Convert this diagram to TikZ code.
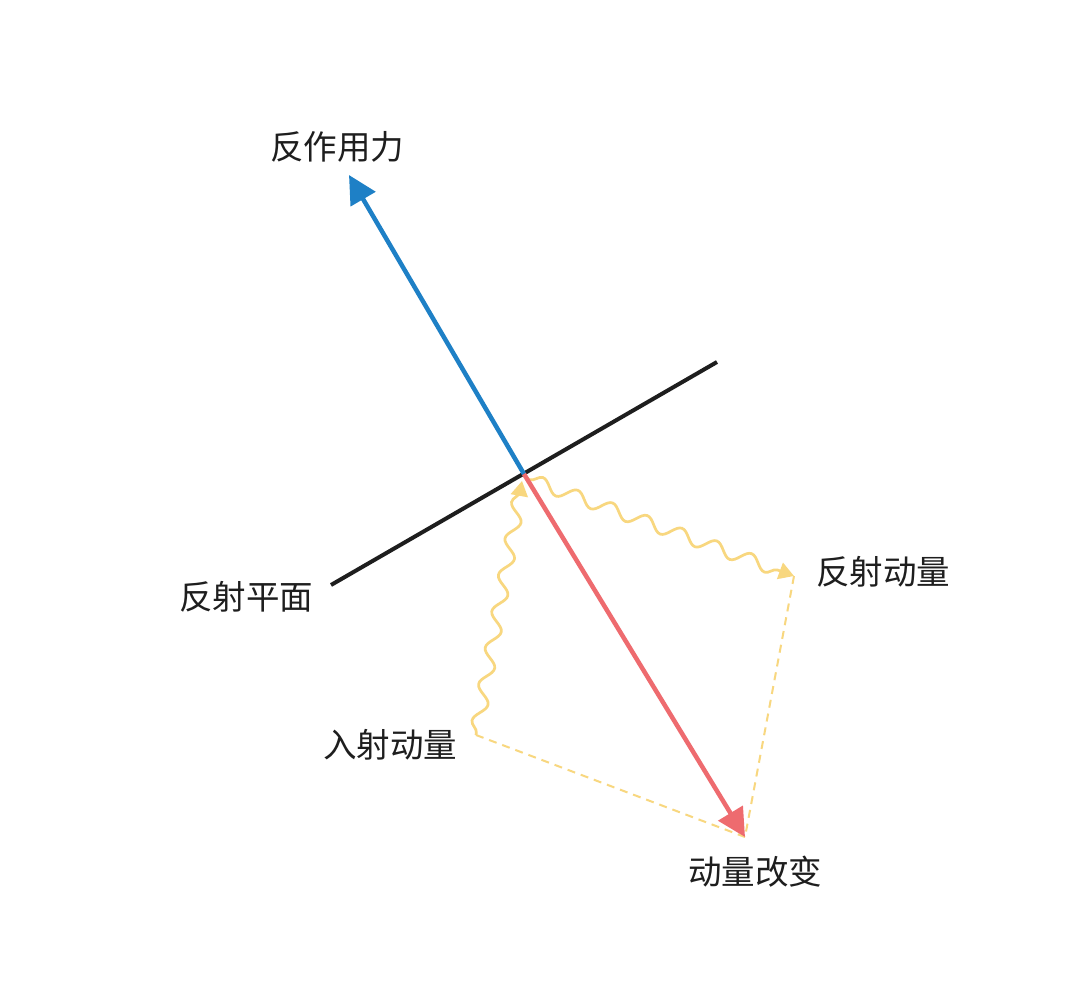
\documentclass[tikz,border=0pt]{standalone}
\usepackage{fontspec}
\newfontfamily\cjk{Noto Sans CJK SC}
\usetikzlibrary{arrows.meta,decorations.pathmorphing}
\definecolor{bluearr}{HTML}{1E80C6}
\definecolor{redarr}{HTML}{EE6B6F}
\definecolor{yel}{HTML}{F8D77F}
\definecolor{txt}{HTML}{1E1E1E}
\tikzset{
  lbl/.style={font=\cjk\fontsize{33.5}{34}\selectfont, text=txt, inner sep=0pt},
  bigarrow/.style={line width=4.5pt, -{Triangle[length=28pt,width=28pt]}},
  wave/.style={yel, line width=2.7pt, decorate,
    decoration={snake, segment length=37pt, amplitude=6.5pt, pre length=2pt, post length=10pt},
    -{Triangle[length=15pt,width=17pt]}},
  dashy/.style={yel, line width=2pt, dash pattern=on 8pt off 6pt}
}
\begin{document}
\begin{tikzpicture}[x=1pt,y=-1pt]
\useasboundingbox (0,0) rectangle (1080,993);
\fill[white] (0,0) rectangle (1080,993);
% points
\coordinate (O) at (524,474);
\coordinate (P1) at (331,585);
\coordinate (P2) at (717,362);
\coordinate (Rtip) at (349,175);
\coordinate (Mtip) at (745,837);
\coordinate (Inc) at (476,735);
\coordinate (IncEnd) at (522,481);
\coordinate (RefS) at (528,479);
\coordinate (Ref) at (794,576);
% labels
\node[lbl] (lR) at (337,147) {反作用力};
\node[lbl] (lP) at (246,597) {反射平面};
\node[lbl] (lRef) at (883,572) {反射动量};
\node[lbl] (lInc) at (390,745) {入射动量};
\node[lbl] (lM) at (755,872) {动量改变};
% dashed lines
\draw[dashy] (Inc) -- (Mtip);
\draw[dashy] (Ref) -- (Mtip);
% waves
\draw[wave] (Inc) -- (IncEnd);
\draw[wave] (RefS) -- (Ref);
% plane
\draw[line width=4pt, txt] (P1) -- (P2);
% arrows
\draw[bigarrow, bluearr] (O) -- (Rtip);
\draw[bigarrow, redarr] (O) -- (Mtip);
\end{tikzpicture}
\end{document}
